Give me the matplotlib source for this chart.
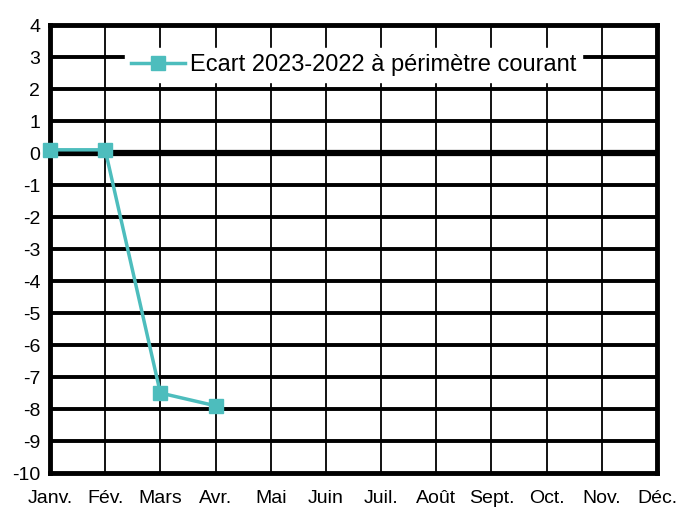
import matplotlib.pyplot as plt

plt.rcParams['font.family'] = ['Liberation Sans', 'DejaVu Sans']
plt.rcParams['axes.unicode_minus'] = False

months = ['Janv.', 'Fév.', 'Mars', 'Avr.', 'Mai', 'Juin', 'Juil.', 'Août',
          'Sept.', 'Oct.', 'Nov.', 'Déc.']
ecart = [0.1, 0.1, -7.5, -7.9]
label = 'Ecart 2023-2022 à périmètre courant'
teal = '#4dbdbd'

fig = plt.figure(figsize=(6.88, 5.18), dpi=100)
ax = fig.add_axes([50 / 688, 45 / 518, 607 / 688, 448 / 518])

x = list(range(len(months)))
# grid
for y in range(-9, 4):
    ax.axhline(y, color='black', lw=4.5 if y == 0 else 2.8, zorder=1)
for xi in x[1:-1]:
    ax.axvline(xi, color='black', lw=1.3, zorder=1)

ax.plot(x[:len(ecart)], ecart, color=teal, lw=2.5, marker='s', ms=10,
        label=label, zorder=3, clip_on=False)

ax.set_xlim(0, 11)
ax.set_ylim(-10, 4)
ax.set_yticks(range(-10, 5))
ax.set_xticks(x)
ax.set_xticklabels(months)
ax.tick_params(axis='both', length=0, labelsize=14)
ax.tick_params(axis='x', pad=12)
ax.tick_params(axis='y', pad=7)
for s in ax.spines.values():
    s.set_linewidth(3.5)

leg = ax.legend(loc='upper center', bbox_to_anchor=(0.5, 0.975), frameon=True,
                fancybox=False, framealpha=1, edgecolor='white', fontsize=17,
                handlelength=2.3, handletextpad=0.2, borderpad=0.25)
leg.set_zorder(5)

fig.savefig('out.png', dpi=100)
